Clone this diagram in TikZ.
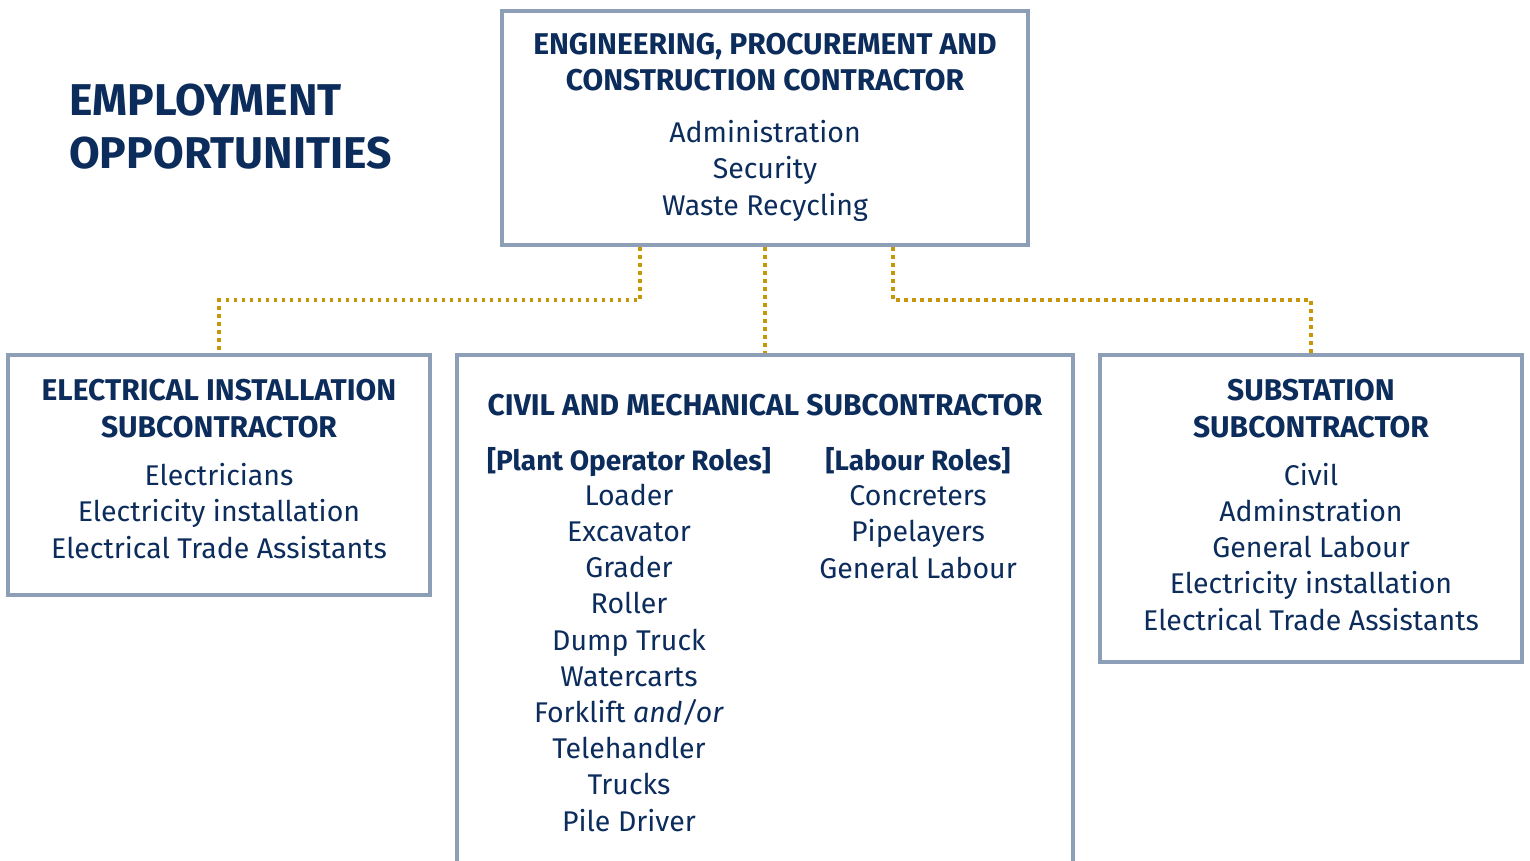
\documentclass[tikz,border=0pt]{standalone}
\usepackage{fontspec}
\setmainfont{Fira Sans}
\definecolor{navy}{HTML}{0C2C5C}
\definecolor{frame}{HTML}{8D9FB7}
\definecolor{gold}{HTML}{C8960A}
\tikzset{
  box/.style={draw=frame, line width=4pt, fill=white, outer sep=0pt, inner sep=0pt},
  head/.style={font=\fontsize{30}{36.5}\selectfont\bfseries, text=navy, align=center, anchor=base, inner sep=0pt},
  colhead/.style={head, font=\fontsize{28}{36}\selectfont\bfseries},
  item/.style={font=\fontsize{28.5}{36.2}\selectfont, text=navy, align=center, anchor=base, inner sep=0pt},
  bigtitle/.style={font=\fontsize{44.5}{53}\selectfont\bfseries, text=navy, align=left, anchor=base west, inner sep=0pt},
  link/.style={draw=gold, line width=3.5pt, dash pattern=on 3.5pt off 4.5pt, shorten <=2pt, shorten >=2pt},
}
\begin{document}
\begin{tikzpicture}[x=1pt,y=-1pt]
  \useasboundingbox[fill=white] (0,0) rectangle (1530,861);
  % boxes
  \node[box, minimum width=526, minimum height=234] (epc) at (765,128) {};
  \node[box, minimum width=422, minimum height=240] (elec) at (219,475) {};
  \node[box, minimum width=616, minimum height=545] (civil) at (765,627.5) {};
  \node[box, minimum width=422, minimum height=307] (sub) at (1311,508.5) {};
  % links
  \draw[link] ([xshift=-125pt]epc.south) -- ++(0,55) -| (elec.north);
  \draw[link] (epc.south) -- (civil.north);
  \draw[link] ([xshift=128pt]epc.south) -- ++(0,55) -| (sub.north);
  % texts (anchored at the baseline of the last line)
  \node[bigtitle] (title) at (69,169) {EMPLOYMENT\\OPPORTUNITIES};
  \node[head] (epchead) at (765,91) {ENGINEERING, PROCUREMENT AND\\CONSTRUCTION CONTRACTOR};
  \node[item] (epcroles) at (765,215) {Administration\\Security\\Waste Recycling};
  \node[head] (elechead) at (219,437) {ELECTRICAL INSTALLATION\\SUBCONTRACTOR};
  \node[item] (elecroles) at (219,558) {Electricians\\Electricity installation\\Electrical Trade Assistants};
  \node[head] (civilhead) at (765,415) {CIVIL AND MECHANICAL SUBCONTRACTOR};
  \node[colhead] (planthead) at (629,470) {[Plant Operator Roles]};
  \node[item] (plantroles) at (629,831) {Loader\\Excavator\\Grader\\Roller\\Dump Truck\\Watercarts\\Forklift \textit{and/or}\\Telehandler\\Trucks\\Pile Driver};
  \node[colhead] (labourhead) at (918,470) {[Labour Roles]};
  \node[item] (labourroles) at (918,578) {Concreters\\Pipelayers\\General Labour};
  \node[head] (subhead) at (1311,437) {SUBSTATION\\SUBCONTRACTOR};
  \node[item] (subroles) at (1311,630) {Civil\\Adminstration\\General Labour\\Electricity installation\\Electrical Trade Assistants};
\end{tikzpicture}
\end{document}
